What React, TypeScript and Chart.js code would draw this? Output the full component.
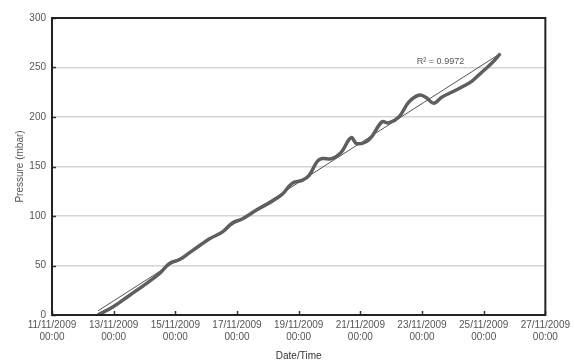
import React, { useEffect, useRef } from "react";
import { Chart, registerables } from "chart.js";

Chart.register(...registerables);

// days since 11/11/2009 00:00
const DAY_OFFSETS = [
  1.49, 1.97, 2.52, 3.07, 3.49, 3.81, 4.14, 4.46, 4.78, 5.11, 5.53, 5.85, 6.17,
  6.63, 7.14, 7.47, 7.79, 8.11, 8.34, 8.6, 8.76, 9.08, 9.37, 9.7, 9.89, 10.28,
  10.7, 10.92, 11.25, 11.57, 11.89, 12.12, 12.38, 12.64, 12.96, 13.28, 13.61,
  13.93, 14.25, 14.54,
];
const PRESSURE = [
  0, 8, 20, 32, 42, 52, 56, 63, 70, 77, 84, 93, 97, 106, 115, 122, 133, 136,
  141, 155, 158, 158, 164, 179, 173, 177, 195, 194, 200, 215, 222, 220, 214,
  220, 225, 230, 236, 245, 254, 264,
];
const X_TICK_DATES = [
  "11/11/2009", "13/11/2009", "15/11/2009", "17/11/2009", "19/11/2009",
  "21/11/2009", "23/11/2009", "25/11/2009", "27/11/2009",
];
const X_TICK_TIME = "00:00";
const R2_LABEL = "R\u00B2 = 0.9972";
const R2_POS = { x: 12.6, y: 256 };

function regression(xs: number[], ys: number[]) {
  const n = xs.length;
  const mx = xs.reduce((a, b) => a + b, 0) / n;
  const my = ys.reduce((a, b) => a + b, 0) / n;
  let sxy = 0, sxx = 0;
  for (let i = 0; i < n; i++) {
    sxy += (xs[i] - mx) * (ys[i] - my);
    sxx += (xs[i] - mx) * (xs[i] - mx);
  }
  const b = sxy / sxx;
  return { a: my - b * mx, b };
}

const FONT = "'Liberation Sans', Arial, sans-serif";

const framePlugin = {
  id: "frame",
  afterDraw(chart: any) {
    const { ctx, chartArea: a, scales } = chart;
    ctx.save();
    ctx.strokeStyle = "#333";
    ctx.lineWidth = 1.5;
    ctx.beginPath();
    scales.y.ticks.forEach((t: any) => {
      const y = Math.round(scales.y.getPixelForValue(t.value)) + 0.5;
      ctx.moveTo(a.left, y);
      ctx.lineTo(a.left + 4, y);
    });
    scales.x.ticks.forEach((t: any) => {
      const x = Math.round(scales.x.getPixelForValue(t.value)) + 0.5;
      ctx.moveTo(x, a.bottom);
      ctx.lineTo(x, a.bottom - 4);
    });
    ctx.stroke();
    ctx.strokeStyle = "#222";
    ctx.lineWidth = 2;
    ctx.strokeRect(a.left, a.top, a.right - a.left, a.bottom - a.top);
    ctx.fillStyle = "#555";
    ctx.font = `9px ${FONT}`;
    ctx.textAlign = "center";
    ctx.textBaseline = "middle";
    ctx.fillText(
      R2_LABEL,
      scales.x.getPixelForValue(R2_POS.x),
      scales.y.getPixelForValue(R2_POS.y)
    );
    ctx.restore();
  },
};

export default function App() {
  const ref = useRef<HTMLCanvasElement | null>(null);

  useEffect(() => {
    if (!ref.current) return;
    const { a, b } = regression(DAY_OFFSETS, PRESSURE);
    const x0 = DAY_OFFSETS[0];
    const x1 = DAY_OFFSETS[DAY_OFFSETS.length - 1];
    const chart = new Chart(ref.current, {
      type: "line",
      data: {
        datasets: [
          {
            label: "Pressure",
            data: DAY_OFFSETS.map((x, i) => ({ x, y: PRESSURE[i] })),
            borderColor: "#5e5e5e",
            borderWidth: 3.5,
            pointRadius: 0,
            tension: 0.4,
            fill: false,
          },
          {
            label: "Trend",
            data: [
              { x: x0, y: a + b * x0 },
              { x: x1, y: a + b * x1 },
            ],
            borderColor: "#555",
            borderWidth: 1,
            pointRadius: 0,
            fill: false,
          },
        ],
      },
      options: {
        responsive: false,
        animation: false,
        layout: { padding: { left: 0, right: 27, top: 18, bottom: 0 } },
        plugins: {
          legend: { display: false },
          tooltip: { enabled: false },
        },
        scales: {
          x: {
            type: "linear",
            min: 0,
            max: 16,
            ticks: {
              stepSize: 2,
              color: "#555",
              font: { family: FONT, size: 10 },
              padding: 4,
              maxRotation: 0,
              autoSkip: false,
              callback: (v: any) => [X_TICK_DATES[Math.round(v / 2)], X_TICK_TIME],
            },
            grid: { display: false, drawTicks: false },
            border: { display: false },
            title: {
              display: true,
              text: "Date/Time",
              color: "#333",
              font: { family: FONT, size: 10 },
              padding: { top: 2, bottom: 0 },
            },
            afterFit: (s: any) => {
              s.height = 47;
            },
          },
          y: {
            min: 0,
            max: 300,
            ticks: {
              stepSize: 50,
              color: "#555",
              font: { family: FONT, size: 10 },
              padding: 6,
            },
            grid: {
              color: "#d4d4d4",
              lineWidth: 1.5,
              drawTicks: false,
            },
            border: { display: false },
            title: {
              display: true,
              text: "Pressure (mbar)",
              color: "#555",
              font: { family: FONT, size: 10 },
              padding: { top: 14, bottom: 0 },
            },
            afterFit: (s: any) => {
              s.width = 52;
            },
          },
        },
      },
      plugins: [framePlugin],
    });
    return () => chart.destroy();
  }, []);

  return (
    <div style={{ position: "fixed", left: 0, top: 0, width: 574, height: 362, background: "#fff" }}>
      <canvas ref={ref} width={574} height={362} />
    </div>
  );
}
